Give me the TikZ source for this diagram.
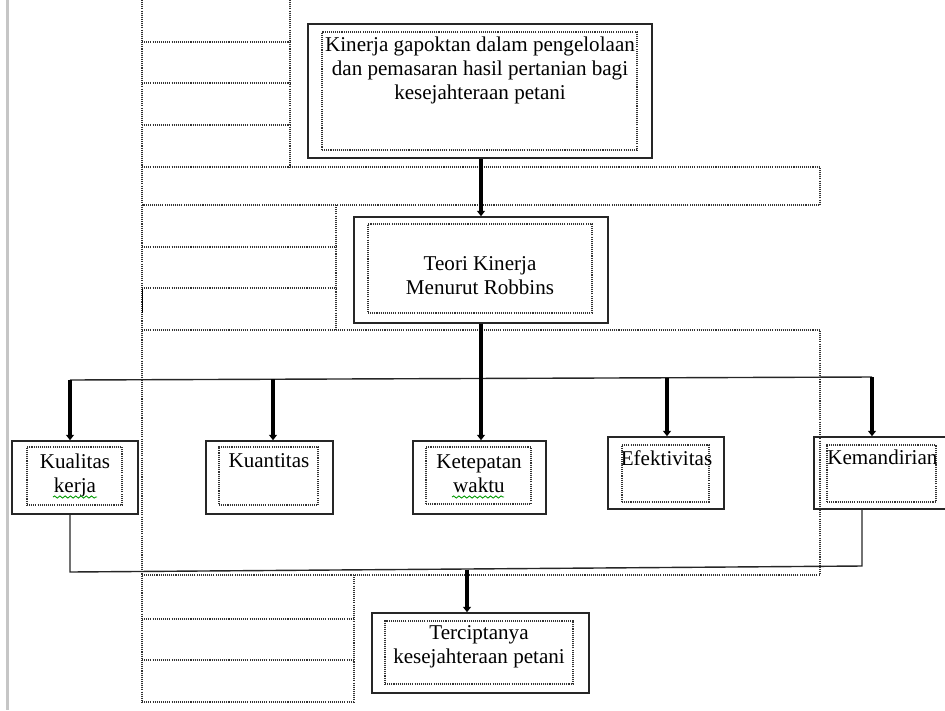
\documentclass[tikz,border=0pt]{standalone}
\usepackage{fontspec}
\setmainfont{Liberation Serif}
\usetikzlibrary{arrows.meta,decorations.pathmorphing}

\begin{document}
\begin{tikzpicture}[
    x=0.02cm, y=-0.02cm,
    outbox/.style={draw=black!85, line width=0.9pt, inner sep=0pt},
    inbox/.style={draw=black!80, line width=0.65pt, dash pattern=on 0.6pt off 0.6pt, inner sep=0pt},
    lbl/.style={anchor=north, align=center, inner sep=0pt, font=\fontsize{12}{13.6}\selectfont},
    tabline/.style={draw=black!80, line width=0.65pt, dash pattern=on 0.6pt off 0.6pt},
    thickarr/.style={line width=2.3pt, -{Triangle[length=3pt,width=4.4pt]}},
    busline/.style={draw=black!85, line width=0.8pt},
    spell/.style={draw=green!60!black, line width=0.5pt, decorate, decoration={snake, segment length=3pt, amplitude=0.6pt}}
]
\clip (0,0) rectangle (945,710);
\fill[gray!45] (6,0) rectangle (9,710);

% table grid of the page
\draw[tabline] (142,0) -- (142,703);
\draw[tabline] (290,0) -- (290,167);
\foreach \y in {42,83,125} \draw[tabline] (142,\y) -- (290,\y);
\draw[tabline] (142,167) -- (820,167) -- (820,205) -- (142,205);
\foreach \y in {247,288} \draw[tabline] (142,\y) -- (336,\y);
\draw[tabline] (336,205) -- (336,330);
\draw[tabline] (142,330) -- (820,330) -- (820,575) -- (142,575);
\foreach \y in {619,660,702} \draw[tabline] (142,\y) -- (354,\y);
\draw[tabline] (354,575) -- (354,702);
\draw[line width=1pt] (142.5,289) -- (142.5,313);

% Top
\node[outbox, minimum width=6.88cm, minimum height=2.68cm] (kinerja) at (480,91) {};
\node[inbox, minimum width=6.3cm, minimum height=2.36cm] (kinerjain) at (479.5,91) {};
\node[lbl] (kinerjatxt) at (480,37) {Kinerja gapoktan dalam pengelolaan\\dan pemasaran hasil pertanian bagi\\kesejahteraan petani};

% Theory
\node[outbox, minimum width=5.08cm, minimum height=2.12cm] (teori) at (481,270) {};
\node[inbox, minimum width=4.48cm, minimum height=1.78cm] (teoriin) at (480,268.5) {};
\node[lbl] (teoritxt) at (480,256) {Teori Kinerja\\Menurut Robbins};

% Indicators
\node[outbox, minimum width=2.52cm, minimum height=1.46cm] (kualitas) at (75,477.5) {};
\node[inbox, minimum width=1.9cm, minimum height=1.16cm] (kualitasin) at (74.5,476) {};
\node[lbl] (kualitastxt) at (75,454) {Kualitas\\kerja};

\node[outbox, minimum width=2.54cm, minimum height=1.46cm] (kuantitas) at (269.5,477.5) {};
\node[inbox, minimum width=1.98cm, minimum height=1.16cm] (kuantitasin) at (268.5,476) {};
\node[lbl] (kuantitastxt) at (269,453) {Kuantitas};

\node[outbox, minimum width=2.66cm, minimum height=1.46cm] (ketepatan) at (479.5,477.5) {};
\node[inbox, minimum width=2.1cm, minimum height=1.14cm] (ketepatanin) at (478.5,475.5) {};
\node[lbl] (ketepatantxt) at (479,454) {Ketepatan\\waktu};

\node[outbox, minimum width=2.32cm, minimum height=1.44cm] (efektivitas) at (666,473) {};
\node[inbox, minimum width=1.74cm, minimum height=1.14cm] (efektivitasin) at (665.5,473.5) {};
\node[lbl] (efektivitastxt) at (666.5,450) {Efektivitas};

\node[outbox, minimum width=2.72cm, minimum height=1.44cm] (kemandirian) at (882,473) {};
\node[inbox, minimum width=2.18cm, minimum height=1.14cm] (kemandirianin) at (881.5,473.5) {};
\node[lbl, anchor=north west] (kemandiriantxt) at (827,450) {Kemandirian};

\draw[spell] (53,497) -- (97,497);
\draw[spell] (452,497) -- (504,497);

% Result
\node[outbox, minimum width=4.34cm, minimum height=1.6cm] (terciptanya) at (480.5,653) {};
\node[inbox, minimum width=3.76cm, minimum height=1.26cm] (terciptanyain) at (479,652.5) {};
\node[lbl] (terciptanyatxt) at (479,625) {Terciptanya\\kesejahteraan petani};

% Connectors
\coordinate (b1) at (70,380);
\coordinate (b2) at (273,379);
\coordinate (b4) at (667,378);
\coordinate (b5) at (872,377);
\coordinate (j1) at (70,572);
\coordinate (j2) at (862,566);
\coordinate (j3) at (467,569.5);

\draw[thickarr] (teori.north |- kinerja.south) -- (teori.north);
\draw[busline] (b1) -- (b5);
\draw[thickarr] (teori.south) -- (teori.south |- ketepatan.north);
\draw[thickarr] (b1) -- (b1 |- kualitas.north);
\draw[thickarr] (b2) -- (b2 |- kuantitas.north);
\draw[thickarr] (b4) -- (b4 |- efektivitas.north);
\draw[thickarr] (b5) -- (b5 |- kemandirian.north);

\draw[busline] (kualitas.south -| j1) -- (j1) -- (j2) -- (kemandirian.south -| j2);
\draw[thickarr] (j3) -- (j3 |- terciptanya.north);

\end{tikzpicture}
\end{document}
